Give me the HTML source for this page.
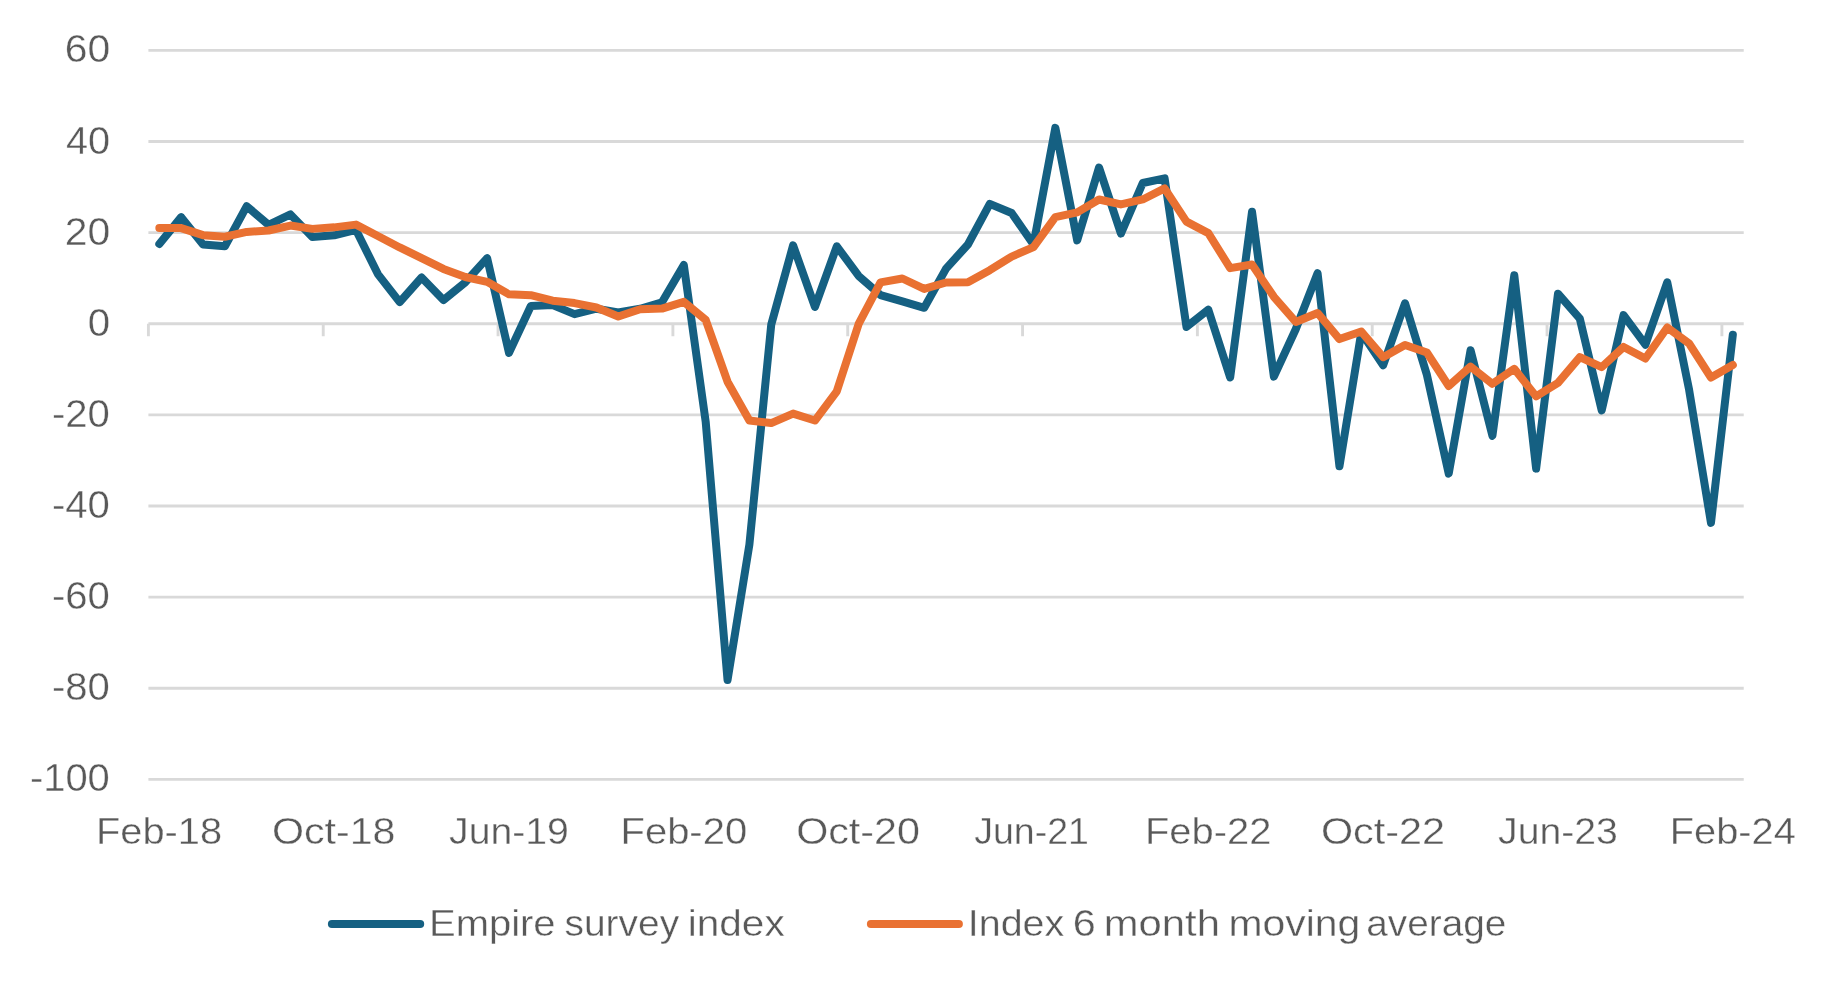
<!DOCTYPE html>
<html><head><meta charset="utf-8"><title>Empire survey index</title>
<style>
html,body{margin:0;padding:0;background:#fff;}
body{width:1822px;height:990px;overflow:hidden;font-family:"Liberation Sans",sans-serif;}
svg{display:block;will-change:transform;}
text{font-family:"Liberation Sans",sans-serif;font-size:36px;fill:#595959;stroke:#ffffff;stroke-width:0.35px;}
text.yl{font-size:38px;}
</style></head><body>
<svg width="1822" height="990" viewBox="0 0 1822 990">
<rect width="1822" height="990" fill="#ffffff"/>
<g stroke="#D9D9D9" stroke-width="2.9" fill="none">
<line x1="148.40" y1="50.39" x2="1743.74" y2="50.39"/>
<line x1="148.40" y1="141.51" x2="1743.74" y2="141.51"/>
<line x1="148.40" y1="232.63" x2="1743.74" y2="232.63"/>
<line x1="148.40" y1="414.87" x2="1743.74" y2="414.87"/>
<line x1="148.40" y1="505.99" x2="1743.74" y2="505.99"/>
<line x1="148.40" y1="597.11" x2="1743.74" y2="597.11"/>
<line x1="148.40" y1="688.23" x2="1743.74" y2="688.23"/>
<line x1="148.40" y1="779.35" x2="1743.74" y2="779.35"/>
<line x1="148.40" y1="323.75" x2="1743.74" y2="323.75"/>
<line x1="148.40" y1="323.75" x2="148.40" y2="336.25"/>
<line x1="323.23" y1="323.75" x2="323.23" y2="336.25"/>
<line x1="498.06" y1="323.75" x2="498.06" y2="336.25"/>
<line x1="672.90" y1="323.75" x2="672.90" y2="336.25"/>
<line x1="847.73" y1="323.75" x2="847.73" y2="336.25"/>
<line x1="1022.56" y1="323.75" x2="1022.56" y2="336.25"/>
<line x1="1197.39" y1="323.75" x2="1197.39" y2="336.25"/>
<line x1="1372.22" y1="323.75" x2="1372.22" y2="336.25"/>
<line x1="1547.06" y1="323.75" x2="1547.06" y2="336.25"/>
<line x1="1721.89" y1="323.75" x2="1721.89" y2="336.25"/>
</g>
<polyline fill="none" stroke="#156082" stroke-width="8" stroke-linejoin="round" stroke-linecap="round" points="159.33,244.02 181.18,217.14 203.03,244.48 224.89,246.30 246.74,206.21 268.60,224.88 290.45,214.41 312.31,236.96 334.16,235.36 356.01,229.90 377.87,274.09 399.72,302.11 421.58,277.51 443.43,300.06 465.28,282.29 487.14,258.14 508.99,352.91 530.85,305.98 552.70,305.07 574.55,314.18 596.41,308.72 618.26,312.36 640.12,308.72 661.97,302.34 683.82,264.98 705.68,421.70 727.53,680.03 749.38,544.72 771.24,324.66 793.09,245.39 814.95,306.89 836.80,246.30 858.65,275.91 880.51,295.05 902.36,301.43 924.22,307.80 946.07,268.62 967.92,244.48 989.78,203.93 1011.63,213.04 1033.49,244.48 1055.34,127.84 1077.19,240.38 1099.05,167.48 1120.90,233.54 1142.76,182.97 1164.61,178.41 1186.47,326.94 1208.32,309.63 1230.17,377.51 1252.03,211.67 1273.88,376.60 1295.74,329.22 1317.59,273.18 1339.44,466.35 1361.30,332.41 1383.15,365.21 1405.01,303.25 1426.86,374.78 1448.71,473.64 1470.57,350.17 1492.42,435.83 1514.28,275.23 1536.13,468.63 1557.98,293.68 1579.84,318.74 1601.69,410.31 1623.55,315.09 1645.40,344.71 1667.25,282.29 1689.11,389.81 1710.96,522.85 1732.82,334.68"/>
<polyline fill="none" stroke="#E97132" stroke-width="8" stroke-linejoin="round" stroke-linecap="round" points="159.33,228.07 181.18,228.07 203.03,235.14 224.89,236.73 246.74,231.95 268.60,230.50 290.45,225.57 312.31,228.87 334.16,227.35 356.01,224.62 377.87,235.93 399.72,247.44 421.58,258.18 443.43,268.93 465.28,276.98 487.14,281.82 508.99,294.36 530.85,295.24 552.70,300.74 574.55,303.10 596.41,307.50 618.26,316.54 640.12,309.17 661.97,308.56 683.82,301.88 705.68,319.80 727.53,381.69 749.38,420.41 771.24,423.07 793.09,413.58 814.95,420.56 836.80,391.33 858.65,323.98 880.51,282.37 902.36,278.49 924.22,288.90 946.07,282.52 967.92,282.21 989.78,270.22 1011.63,256.55 1033.49,247.06 1055.34,217.06 1077.19,212.36 1099.05,199.52 1120.90,204.46 1142.76,199.45 1164.61,188.44 1186.47,221.62 1208.32,233.16 1230.17,268.17 1252.03,264.52 1273.88,296.79 1295.74,321.93 1317.59,312.97 1339.44,339.09 1361.30,331.57 1383.15,357.16 1405.01,344.94 1426.86,352.53 1448.71,385.94 1470.57,366.58 1492.42,383.81 1514.28,368.82 1536.13,396.38 1557.98,382.86 1579.84,357.05 1601.69,367.07 1623.55,346.95 1645.40,358.53 1667.25,327.47 1689.11,343.49 1710.96,377.51 1732.82,364.91"/>
<g>
<text class="yl" x="64.75" y="62.39" textLength="45.46" lengthAdjust="spacingAndGlyphs">60</text>
<text class="yl" x="66.00" y="153.51" textLength="44.13" lengthAdjust="spacingAndGlyphs">40</text>
<text class="yl" x="64.75" y="244.63" textLength="45.46" lengthAdjust="spacingAndGlyphs">20</text>
<text class="yl" x="87.75" y="335.75" textLength="22.37" lengthAdjust="spacingAndGlyphs">0</text>
<text class="yl" x="51.90" y="426.87" textLength="57.94" lengthAdjust="spacingAndGlyphs">-20</text>
<text class="yl" x="51.90" y="517.99" textLength="57.94" lengthAdjust="spacingAndGlyphs">-40</text>
<text class="yl" x="51.90" y="609.11" textLength="57.94" lengthAdjust="spacingAndGlyphs">-60</text>
<text class="yl" x="51.90" y="700.23" textLength="57.94" lengthAdjust="spacingAndGlyphs">-80</text>
<text class="yl" x="29.90" y="791.35" textLength="79.93" lengthAdjust="spacingAndGlyphs">-100</text>
</g>
<g>
<text x="96.00" y="844.2" textLength="126.12" lengthAdjust="spacingAndGlyphs">Feb-18</text>
<text x="271.95" y="844.2" textLength="123.60" lengthAdjust="spacingAndGlyphs">Oct-18</text>
<text x="449.10" y="844.2" textLength="119.81" lengthAdjust="spacingAndGlyphs">Jun-19</text>
<text x="620.50" y="844.2" textLength="126.66" lengthAdjust="spacingAndGlyphs">Feb-20</text>
<text x="796.15" y="844.2" textLength="123.83" lengthAdjust="spacingAndGlyphs">Oct-20</text>
<text x="974.20" y="844.2" textLength="114.66" lengthAdjust="spacingAndGlyphs">Jun-21</text>
<text x="1145.00" y="844.2" textLength="126.38" lengthAdjust="spacingAndGlyphs">Feb-22</text>
<text x="1320.95" y="844.2" textLength="124.13" lengthAdjust="spacingAndGlyphs">Oct-22</text>
<text x="1498.10" y="844.2" textLength="119.82" lengthAdjust="spacingAndGlyphs">Jun-23</text>
<text x="1669.80" y="844.2" textLength="126.10" lengthAdjust="spacingAndGlyphs">Feb-24</text>
</g>
<line x1="331.9" y1="924.05" x2="420.2" y2="924.05" stroke="#156082" stroke-width="8" stroke-linecap="round"/>
<line x1="870.9" y1="924" x2="958.9" y2="924" stroke="#E97132" stroke-width="8" stroke-linecap="round"/>
<text x="429.00" y="935.5" textLength="126.56" lengthAdjust="spacingAndGlyphs">Empire</text>
<text x="564.50" y="935.5" textLength="114.58" lengthAdjust="spacingAndGlyphs">survey</text>
<text x="687.70" y="935.5" textLength="96.98" lengthAdjust="spacingAndGlyphs">index</text>
<text x="967.75" y="935.5" textLength="96.55" lengthAdjust="spacingAndGlyphs">Index</text>
<text x="1072.75" y="935.5" textLength="23.02" lengthAdjust="spacingAndGlyphs">6</text>
<text x="1103.80" y="935.5" textLength="116.07" lengthAdjust="spacingAndGlyphs">month</text>
<text x="1228.50" y="935.5" textLength="131.86" lengthAdjust="spacingAndGlyphs">moving</text>
<text x="1366.30" y="935.5" textLength="140.00" lengthAdjust="spacingAndGlyphs">average</text>
</svg>
</body></html>
